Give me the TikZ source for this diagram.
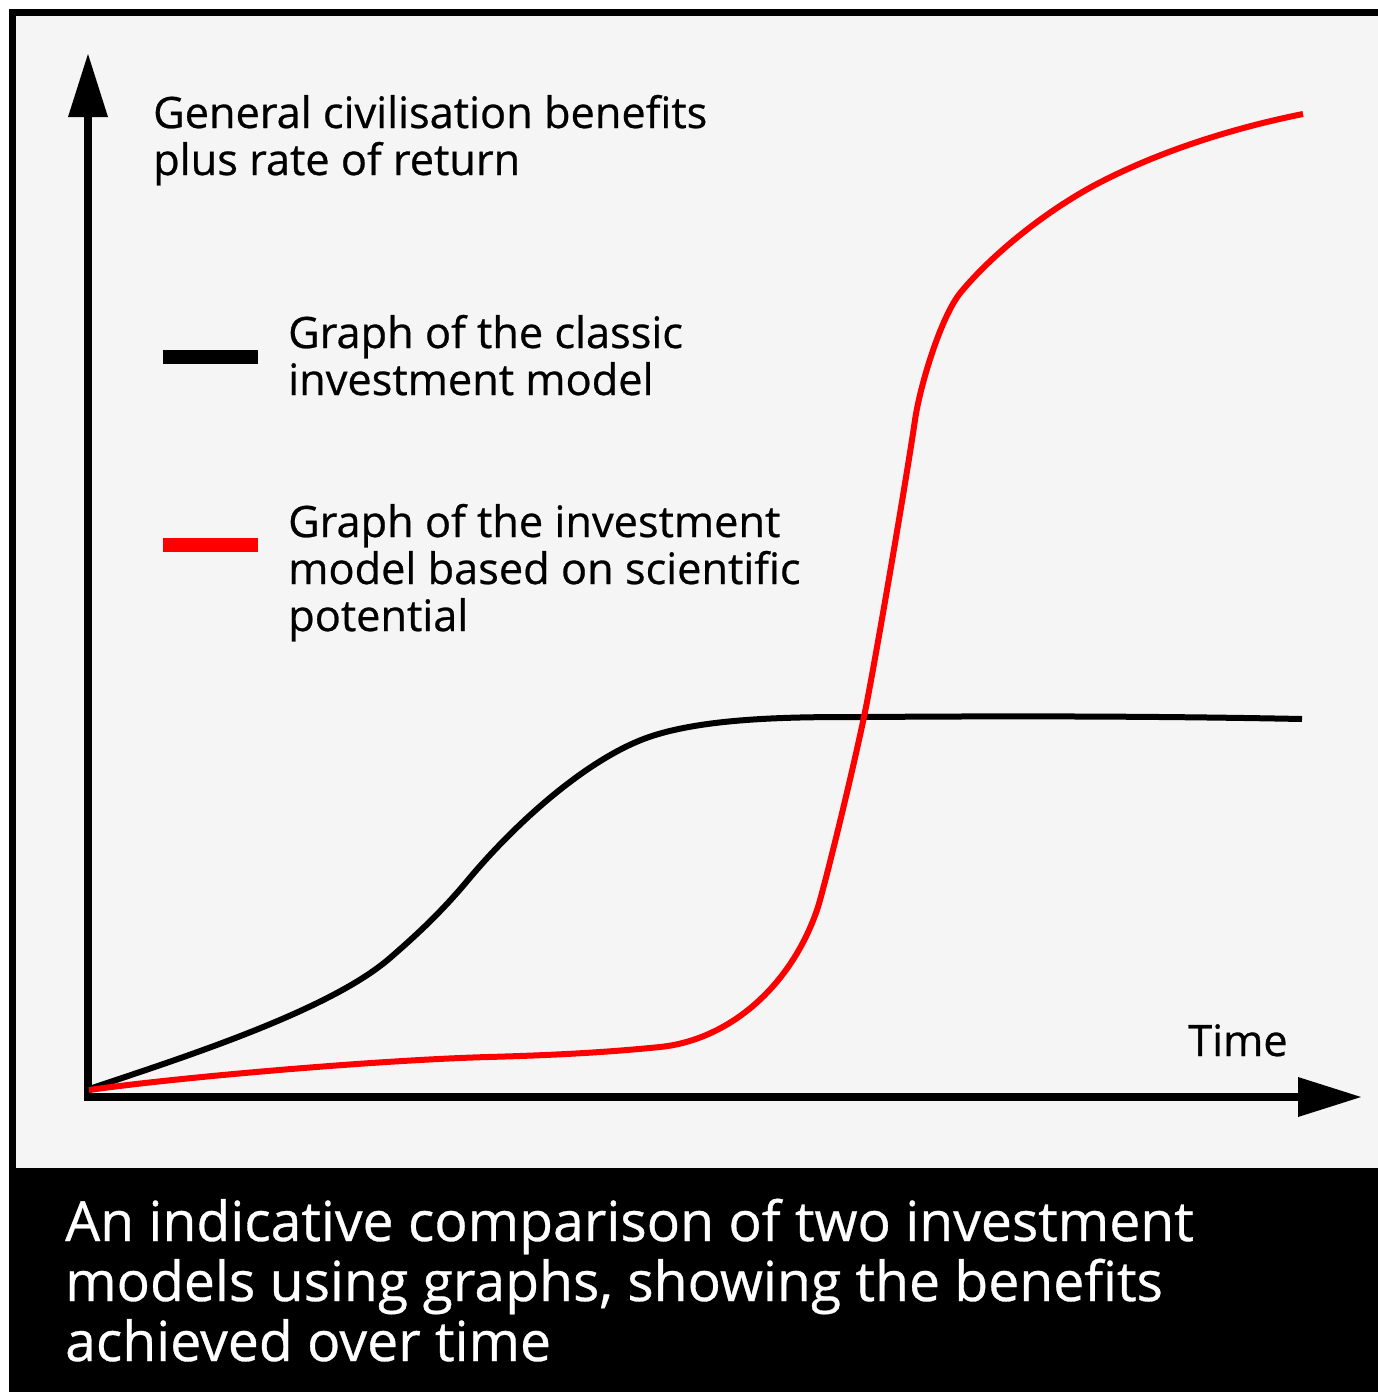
\documentclass[tikz,border=0pt]{standalone}
\usepackage{fontspec}
\setmainfont{Open Sans}[FakeBold=0.6]
\definecolor{panel}{gray}{0.96}
\definecolor{curvered}{RGB}{255,0,0}
\tikzset{
  lbl/.style={inner sep=0pt, anchor=base west, align=left, font=\fontsize{43.3}{47}\selectfont},
  caption/.style={inner sep=0pt, anchor=base west, align=left, text=white, font=\fontsize{55.3}{60}\selectfont},
  axis/.style={line width=8.5pt},
  head/.style={fill=black},
  curve/.style={line width=6pt, line join=round},
  legline/.style={line width=14pt}
}
\begin{document}
\begin{tikzpicture}[x=1pt,y=-1pt]
\useasboundingbox (0,0) rectangle (1378,1392);
\fill[white] (0,0) rectangle (1378,1392);
% frame
\fill[black] (9,9) rectangle (1378,1392);
\fill[panel] (16,16) rectangle (1378,1168);
% axes
\coordinate (O) at (88,1097);
\coordinate (ybase) at (88,117);
\coordinate (xbase) at (1298,1097);
\draw[axis] (88,1101) -- (ybase);
\draw[axis] (84,1097) -- (xbase);
\fill[head] (88,54) -- (68,117) -- (108,117) -- cycle;
\fill[head] (1361,1097) -- (1298,1077) -- (1298,1117) -- cycle;
% classic curve
\draw[curve, black] (89,1089)
  .. controls (188,1056) and (330,1010) .. (390,958)
  .. controls (420,932) and (443,910) .. (468,880)
  .. controls (513,826) and (581,764) .. (641,740)
  .. controls (700,716.4) and (800,717) .. (866,717)
  .. controls (1000,716) and (1150,716) .. (1302,719);
% science curve
\draw[curve, curvered] (89,1090)
  .. controls (180,1077) and (380,1060) .. (488,1057)
  .. controls (560,1055) and (610,1052) .. (660,1047)
  .. controls (728,1040) and (790,988) .. (817,910)
  .. controls (823,893) and (854,767) .. (866,707)
  .. controls (878,645) and (907,475) .. (915,420)
  .. controls (920,385.6) and (941,316) .. (961,292)
  .. controls (996,250) and (1050,209) .. (1095,185)
  .. controls (1165,148) and (1243,126) .. (1303,114);
% texts
\node[lbl] (ylabel) at (153,175) {General civilisation benefits\\plus rate of return};
\draw[legline, black] (163,357) -- (258,357);
\node[lbl] (leg1) at (288,395) {Graph of the classic\\investment model};
\draw[legline, curvered] (163,545) -- (258,545);
\node[lbl] (leg2) at (288,631) {Graph of the investment\\model based on scientific\\potential};
\node[lbl] (xlabel) at (1188,1056) {Time};
\node[caption] (cap) at (65,1361) {An indicative comparison of two investment\\models using graphs, showing the benefits\\achieved over time};
\end{tikzpicture}
\end{document}
